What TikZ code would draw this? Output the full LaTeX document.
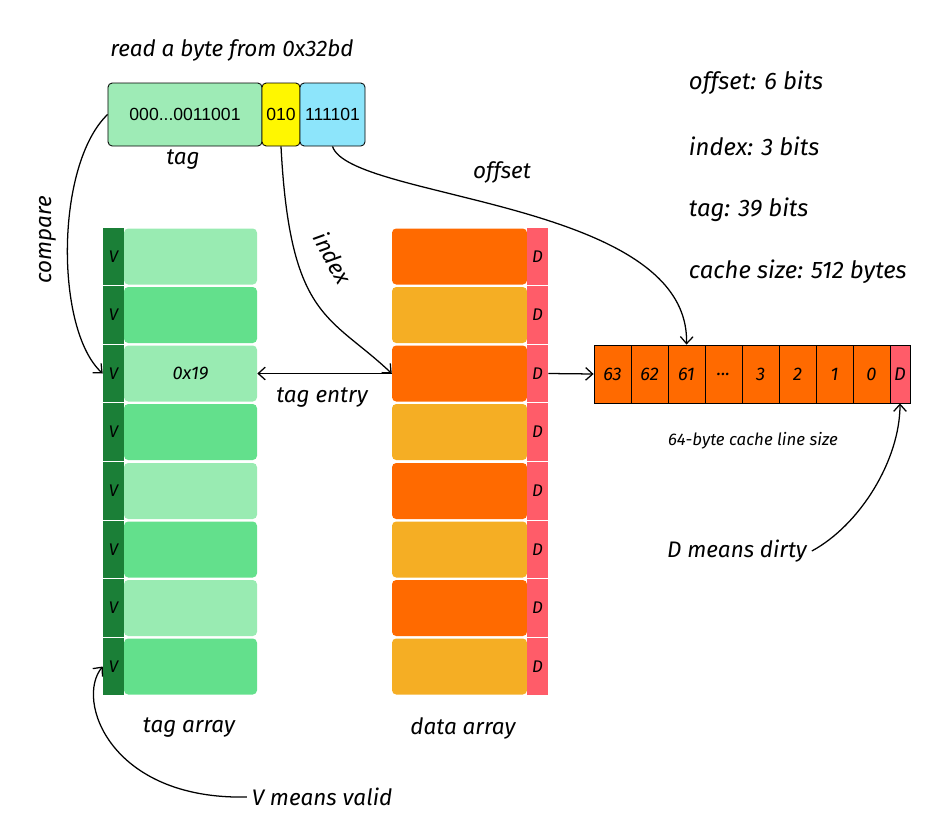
\documentclass[tikz,border=0pt]{standalone}
\usepackage{fontspec}
\setmainfont{Fira Sans}
\newfontfamily\boxfont{Liberation Sans}
\usepackage{xcolor}
\usepackage{tikz}
\usetikzlibrary{arrows.meta}
\definecolor{tagbar}{HTML}{9EEBB6}
\definecolor{idxbar}{HTML}{FFF700}
\definecolor{offbar}{HTML}{8DE5FB}
\definecolor{taglight}{HTML}{99EBB2}
\definecolor{tagdark}{HTML}{63E08C}
\definecolor{validgreen}{HTML}{1B7F37}
\definecolor{dataorange}{HTML}{FF6A00}
\definecolor{dataamber}{HTML}{F5AE24}
\definecolor{dirtyred}{HTML}{FF5C69}

\tikzset{
  hand/.style={font=\fontsize{16}{19}\selectfont\itshape},
  bitfield/.style={rectangle, rounded corners=3pt, draw=black, line width=0.6pt, minimum height=15.75mm, inner sep=0pt, font=\fontsize{12.5}{14}\selectfont\boxfont},
  tagrow/.style={rectangle, rounded corners=3pt, minimum width=33.25mm, minimum height=14mm, inner sep=0pt, font=\fontsize{13}{15}\selectfont\itshape},
  datarow/.style={rectangle, rounded corners=3pt, minimum width=33.75mm, minimum height=14mm, inner sep=0pt},
  flagbit/.style={rectangle, minimum width=5.25mm, minimum height=14.3mm, inner sep=0pt, font=\fontsize{12}{14}\selectfont\itshape},
  cell/.style={rectangle, draw=black, line width=0.6pt, fill=dataorange, minimum width=9.25mm, minimum height=14.5mm, inner sep=0pt, font=\fontsize{13}{15}\selectfont\itshape},
  link/.style={-{Straight Barb[length=5pt, width=9pt]}, line width=0.9pt, black}
}

\begin{document}
\begin{tikzpicture}[x=0.25mm, y=-0.25mm]
\useasboundingbox (0,0) rectangle (939,821);

% Address
\node[hand] (title) at (232,50) {read a byte from 0x32bd};
\node[bitfield, fill=tagbar, minimum width=38.5mm] (tag) at (185,114.5) {000...0011001};
\node[bitfield, fill=idxbar, minimum width=9.5mm] (idx) at (281,114.5) {010};
\node[bitfield, fill=offbar, minimum width=16.25mm] (off) at (332.5,114.5) {111101};
\node[hand] (taglbl) at (183,160) {tag};

% Cache parameters
\node[hand, anchor=west, font=\fontsize{17}{20}\selectfont\itshape] (offbits) at (684,83) {offset: 6 bits};
\node[hand, anchor=west, font=\fontsize{17}{20}\selectfont\itshape] (idxbits) at (684,146) {index: 3 bits};
\node[hand, anchor=west, font=\fontsize{17}{20}\selectfont\itshape] (tagbits) at (684,210) {tag: 39 bits};
\node[hand, anchor=west, font=\fontsize{17}{20}\selectfont\itshape] (cachesize) at (684,272) {cache size: 512 bytes};

% Tag array
\node[tagrow, fill=taglight] (t1) at (190.5,256.5) {};
\node[tagrow, fill=tagdark] (t2) at (190.5,315) {};
\node[tagrow, fill=taglight] (t3) at (190.5,373.5) {0x19};
\node[tagrow, fill=tagdark] (t4) at (190.5,432) {};
\node[tagrow, fill=taglight] (t5) at (190.5,491) {};
\node[tagrow, fill=tagdark] (t6) at (190.5,549.5) {};
\node[tagrow, fill=taglight] (t7) at (190.5,608) {};
\node[tagrow, fill=tagdark] (t8) at (190.5,666.5) {};

% Valid bits
\node[flagbit, fill=validgreen] (v1) at (113.5,256.5) {V};
\node[flagbit, fill=validgreen] (v2) at (113.5,315) {V};
\node[flagbit, fill=validgreen] (v3) at (113.5,373.5) {V};
\node[flagbit, fill=validgreen] (v4) at (113.5,432) {V};
\node[flagbit, fill=validgreen] (v5) at (113.5,491) {V};
\node[flagbit, fill=validgreen] (v6) at (113.5,549.5) {V};
\node[flagbit, fill=validgreen] (v7) at (113.5,608) {V};
\node[flagbit, fill=validgreen] (v8) at (113.5,666.5) {V};

% Data array
\node[datarow, fill=dataorange] (d1) at (459.5,256.5) {};
\node[datarow, fill=dataamber] (d2) at (459.5,315) {};
\node[datarow, fill=dataorange] (d3) at (459.5,373.5) {};
\node[datarow, fill=dataamber] (d4) at (459.5,432) {};
\node[datarow, fill=dataorange] (d5) at (459.5,491) {};
\node[datarow, fill=dataamber] (d6) at (459.5,549.5) {};
\node[datarow, fill=dataorange] (d7) at (459.5,608) {};
\node[datarow, fill=dataamber] (d8) at (459.5,666.5) {};

% Dirty bits
\node[flagbit, fill=dirtyred] (x1) at (537.5,256.5) {D};
\node[flagbit, fill=dirtyred] (x2) at (537.5,315) {D};
\node[flagbit, fill=dirtyred] (x3) at (537.5,373.5) {D};
\node[flagbit, fill=dirtyred] (x4) at (537.5,432) {D};
\node[flagbit, fill=dirtyred] (x5) at (537.5,491) {D};
\node[flagbit, fill=dirtyred] (x6) at (537.5,549.5) {D};
\node[flagbit, fill=dirtyred] (x7) at (537.5,608) {D};
\node[flagbit, fill=dirtyred] (x8) at (537.5,666.5) {D};

\node[hand] (tagarray) at (189,728) {tag array};
\node[hand] (dataarray) at (463,728) {data array};

% Cache line
\node[cell] (c63) at (612.5,374) {63};
\node[cell] (c62) at (649.5,374) {62};
\node[cell] (c61) at (686.5,374) {61};
\node[cell] (cdots) at (723.5,374) {...};
\node[cell] (c3) at (760.5,374) {3};
\node[cell] (c2) at (797.5,374) {2};
\node[cell] (c1) at (834.5,374) {1};
\node[cell] (c0) at (871.5,374) {0};
\node[cell, fill=dirtyred, minimum width=5mm] (cd) at (900,374) {D};
\node[font=\fontsize{12}{14}\selectfont\itshape] (linesize) at (753,441) {64-byte cache line size};

% Notes
\node[hand] (dirty) at (737,551) {D means dirty};
\node[hand] (valid) at (322,797) {V means valid};

% Arrows
\draw[link] (tag.west) .. controls (55,165) and (55,330) .. (v3.west);
\node[hand, rotate=90] (cmp) at (48,240) {compare};
\draw[link] (idx.south) .. controls (290,320) and (330,315) .. (d3.west);
\node[hand, rotate=-62] (idxlbl) at (333,258) {index};
\draw[link] (off.south) .. controls (350,200) and (690,200) .. (c61.north);
\node[hand] (offlbl) at (502,172) {offset};
\draw[link] (d3.west) -- (t3.east);
\node[hand] (tagentry) at (322,398) {tag entry};
\draw[link] (x3.east) -- (c63.west);
\draw[link] (dirty.east) .. controls (860,525) and (900,460) .. (cd.south);
\draw[link] (valid.west) .. controls (110,800) and (75,700) .. (v8.west);

\end{tikzpicture}
\end{document}
